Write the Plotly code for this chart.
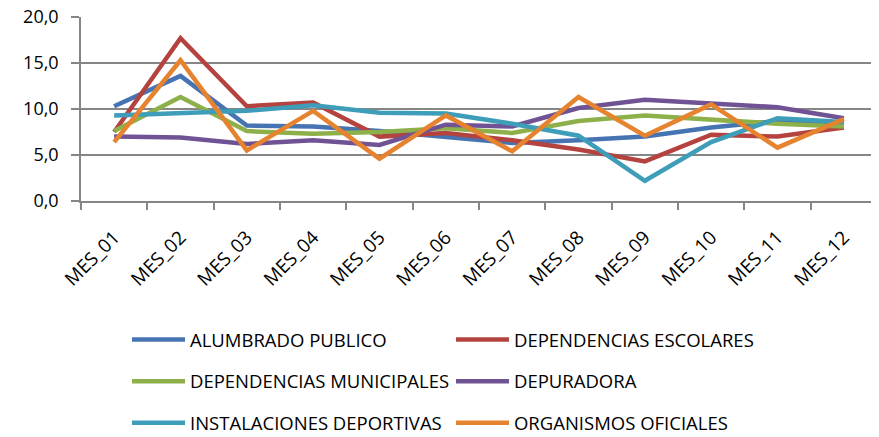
import plotly.graph_objects as go

months = ["MES_01", "MES_02", "MES_03", "MES_04", "MES_05", "MES_06",
          "MES_07", "MES_08", "MES_09", "MES_10", "MES_11", "MES_12"]

alumbrado = [10.3, 13.6, 8.2, 8.1, 7.6, 7.0, 6.3, 6.6, 7.0, 8.0, 8.7, 8.5]
escolares = [7.5, 17.7, 10.3, 10.7, 7.0, 7.4, 6.6, 5.6, 4.3, 7.2, 7.0, 8.0]
municipales = [7.6, 11.3, 7.6, 7.3, 7.5, 7.9, 7.4, 8.7, 9.3, 8.8, 8.4, 8.1]
depuradora = [7.0, 6.9, 6.2, 6.6, 6.1, 8.3, 8.1, 10.1, 11.0, 10.6, 10.2, 9.0]
deportivas = [9.3, 9.5, 9.8, 10.4, 9.6, 9.5, 8.4, 7.1, 2.2, 6.4, 9.0, 8.6]
oficiales = [6.4, 15.3, 5.5, 9.8, 4.6, 9.3, 5.4, 11.3, 7.1, 10.5, 5.8, 8.9]

y_ticks = [0, 5, 10, 15, 20]

series = [
    ("ALUMBRADO PUBLICO", alumbrado, "#4674B3", "legend"),
    ("DEPENDENCIAS ESCOLARES", escolares, "#B4433F", "legend2"),
    ("DEPENDENCIAS MUNICIPALES", municipales, "#8DB04A", "legend"),
    ("DEPURADORA", depuradora, "#6F5394", "legend2"),
    ("INSTALACIONES DEPORTIVAS", deportivas, "#3E9DB8", "legend"),
    ("ORGANISMOS OFICIALES", oficiales, "#E5832F", "legend2"),
]

FONT = "Open Sans, Noto Sans, sans-serif"

fig = go.Figure()
for i, (name, vals, col, lg) in enumerate(series):
    fig.add_trace(go.Scatter(
        x=months, y=vals, name=name, mode="lines",
        line=dict(color=col, width=4.5),
        legend=lg, legendgroup=f"g{i}",
    ))

legend_common = dict(
    orientation="v", traceorder="grouped", tracegroupgap=14.6,
    font=dict(family=FONT, size=18.5, color="#000000"),
    bgcolor="rgba(0,0,0,0)", itemwidth=53, xanchor="left", yanchor="top",
)

# the page body adds an 8px offset, so the figure is 8px smaller
fig.update_layout(
    width=871, height=429,
    margin=dict(l=73, r=2, t=9, b=236, autoexpand=False),
    paper_bgcolor="white", plot_bgcolor="white",
    separators=",.",
    font=dict(family=FONT, size=18, color="#000000"),
    showlegend=True,
    legend=dict(x=0.0578, y=-0.652, **legend_common),
    legend2=dict(x=0.4648, y=-0.652, **legend_common),
)

fig.update_xaxes(
    type="category", range=[-0.5, 11.5], automargin=False,
    showline=True, linecolor="#868686", linewidth=1.5,
    showgrid=False, ticks="outside", tickson="boundaries",
    ticklen=7, tickcolor="#868686", tickwidth=1.5,
    tickangle=-45, tickfont=dict(family=FONT, size=19, color="#000000"),
    ticklabelstandoff=16, ticklabeloverflow="allow",
)
fig.update_yaxes(
    range=[0, 20], tickvals=y_ticks, tickformat=".1f", automargin=False,
    showline=True, linecolor="#868686", linewidth=1.5,
    showgrid=True, gridcolor="#868686", gridwidth=1.5,
    ticks="outside", ticklen=8, tickcolor="#868686", tickwidth=1.5,
    tickfont=dict(family=FONT, size=18, color="#000000"),
    ticklabelstandoff=9, zeroline=False, ticklabeloverflow="allow",
)

fig.write_html("out.html")
